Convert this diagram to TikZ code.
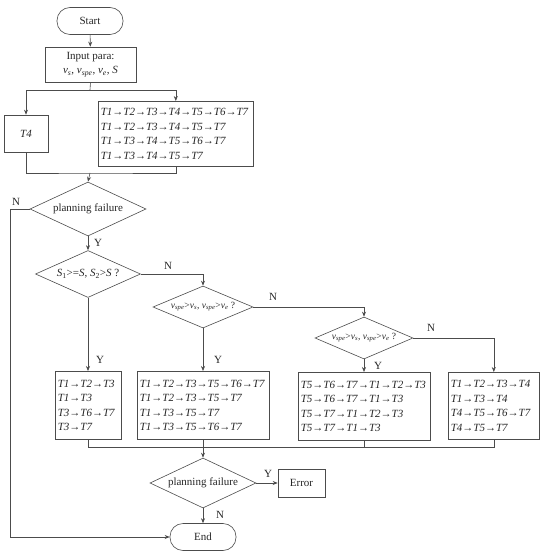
\documentclass[tikz,border=0pt]{standalone}
\usepackage{fontspec}
\setmainfont{Liberation Serif}
\usetikzlibrary{shapes.geometric,arrows.meta,calc}
\newcommand{\Tx}[1]{\textit{T#1}}
\newcommand{\ra}{→}
\newcommand{\vsub}[2]{\textit{#1}\textsubscript{\textit{#2}}}
\begin{document}
\begin{tikzpicture}[x=1pt,y=-1pt,
  every node/.style={text=black!85, font=\fontsize{11}{14.5}\selectfont},
  line/.style={draw=black!70, line width=0.6pt},
  arr/.style={line, -{Stealth[length=5pt,width=4pt]}},
  term/.style={line, rounded corners=13pt, minimum width=66pt, minimum height=27pt, inner sep=0pt},
  box/.style={line, rectangle, inner sep=0pt},
  listbox/.style={line, rectangle, align=left, inner ysep=0pt, inner xsep=2.5pt, minimum height=68pt, anchor=north west},
  dec/.style={line, diamond, inner sep=0pt},
  lab/.style={font=\fontsize{11}{12}\selectfont, inner sep=0pt}]
\useasboundingbox (0,0) rectangle (550,556);

\node[term] (start) at (90,21) {Start};
\node[box, minimum width=91pt, minimum height=35pt, align=center] (input) at (90.5,64.5)
  {Input para:\\\vsub{v}{s}, \vsub{v}{spe}, \vsub{v}{e}, \textit{S}};
\node[box, minimum width=44pt, minimum height=37pt] (t4) at (26,133.5) {\Tx4};
\node[listbox, text width=150pt, minimum height=65pt] (big) at (98,101)
  {\Tx1\ra\Tx2\ra\Tx3\ra\Tx4\ra\Tx5\ra\Tx6\ra\Tx7\\
   \Tx1\ra\Tx2\ra\Tx3\ra\Tx4\ra\Tx5\ra\Tx7\\
   \Tx1\ra\Tx3\ra\Tx4\ra\Tx5\ra\Tx6\ra\Tx7\\
   \Tx1\ra\Tx3\ra\Tx4\ra\Tx5\ra\Tx7};

\node[dec, aspect=2.15, minimum width=116pt, minimum height=54pt] (d1) at (88,209) {planning failure};
\node[dec, aspect=2.23, minimum width=105pt, minimum height=47pt] (d2) at (88,274)
  {\textit{S}\textsubscript{1}>=\textit{S}, \textit{S}\textsubscript{2}>\textit{S} ?};
\node[dec, aspect=2.38, minimum width=100pt, minimum height=42pt, font=\fontsize{9.5}{11}\selectfont] (d3) at (203,307)
  {\vsub{v}{spe}>\vsub{v}{s}, \vsub{v}{spe}>\vsub{v}{e} ?};
\node[dec, aspect=2.33, minimum width=98pt, minimum height=42pt, font=\fontsize{9.5}{11}\selectfont] (d4) at (364,338)
  {\vsub{v}{spe}>\vsub{v}{s}, \vsub{v}{spe}>\vsub{v}{e} ?};

\node[listbox, text width=61pt] (bA) at (55,371)
  {\Tx1\ra\Tx2\ra\Tx3\\ \Tx1\ra\Tx3\\ \Tx3\ra\Tx6\ra\Tx7\\ \Tx3\ra\Tx7};
\node[listbox, text width=127pt] (bB) at (137,371)
  {\Tx1\ra\Tx2\ra\Tx3\ra\Tx5\ra\Tx6\ra\Tx7\\ \Tx1\ra\Tx2\ra\Tx3\ra\Tx5\ra\Tx7\\
   \Tx1\ra\Tx3\ra\Tx5\ra\Tx7\\ \Tx1\ra\Tx3\ra\Tx5\ra\Tx6\ra\Tx7};
\node[listbox, text width=127pt] (bC) at (298,372)
  {\Tx5\ra\Tx6\ra\Tx7\ra\Tx1\ra\Tx2\ra\Tx3\\ \Tx5\ra\Tx6\ra\Tx7\ra\Tx1\ra\Tx3\\
   \Tx5\ra\Tx7\ra\Tx1\ra\Tx2\ra\Tx3\\ \Tx5\ra\Tx7\ra\Tx1\ra\Tx3};
\node[listbox, text width=86pt, minimum height=67pt] (bD) at (448,372)
  {\Tx1\ra\Tx2\ra\Tx3\ra\Tx4\\ \Tx1\ra\Tx3\ra\Tx4\\ \Tx4\ra\Tx5\ra\Tx6\ra\Tx7\\ \Tx4\ra\Tx5\ra\Tx7};

\node[dec, aspect=2.12, minimum width=106pt, minimum height=50pt] (d5) at (203,483) {planning failure};
\node[box, minimum width=47pt, minimum height=28pt] (err) at (301.5,483) {Error};
\node[term] (end) at (203,537) {End};

% connectors
\coordinate (j1) at (90,90);
\coordinate (j2) at (90,173);
\coordinate (j3) at (203,447);
\coordinate (nl) at (10,209);

\draw[arr] (start) -- (input);
\draw[line] (input.south) -- (j1);
\draw[arr] (j1) -| (t4.north);
\draw[arr] (j1) -| (big.north);
\draw[line] (t4.south) |- (j2) -| (big.south);
\draw[arr] (j2) -- (d1.north);

\draw[arr] (d1.west) -- (nl) |- (end.west);
\node[lab] at (16,202) {N};
\draw[arr] (d1.south) -- (d2.north);
\node[lab] at (98,243) {Y};

\draw[arr] (d2.east) -| (d3.north);
\node[lab] at (168,266) {N};
\draw[arr] (d2.south) -- (d2.south |- bA.north);
\node[lab] at (100,360) {Y};

\draw[arr] (d3.east) -| (d4.north);
\node[lab] at (273,297) {N};
\draw[arr] (d3.south) -- (d3.south |- bB.north);
\node[lab] at (218,360) {Y};

\draw[arr] (d4.east) -| (bD.north);
\node[lab] at (431,328) {N};
\draw[arr] (d4.south) -- (d4.south |- bC.north);
\node[lab] at (378,366) {Y};

\draw[line] (bA.south) |- (bD.south |- j3) -- (bD.south);
\draw[line] (bB.south) -- (bB.south |- j3);
\draw[line] (bC.south) -- (bC.south |- j3);
\draw[arr] (j3) -- (d5.north);

\draw[arr] (d5.east) -- (err.west);
\node[lab] at (268,474) {Y};
\draw[arr] (d5.south) -- (end.north);
\node[lab] at (220,515) {N};
\end{tikzpicture}
\end{document}
